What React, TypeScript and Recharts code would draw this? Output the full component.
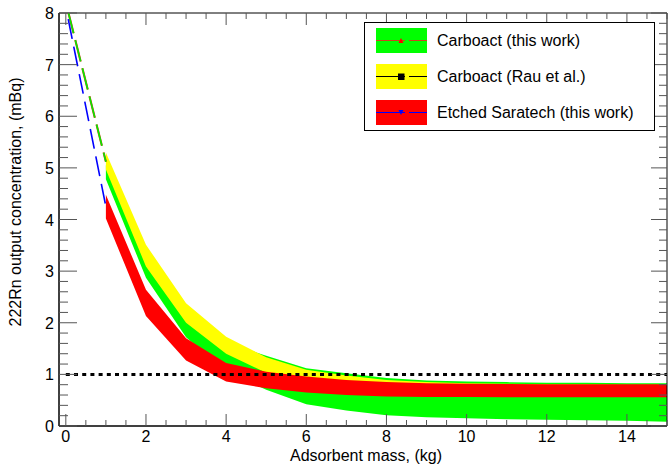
import React from 'react';
import {ComposedChart, Area, Line, XAxis, YAxis, ReferenceArea} from 'recharts';

// band limits per adsorbent mass (kg)
const massKg = [1, 2, 3, 4, 5, 6, 7, 8, 9, 10, 11, 12, 13, 14, 15];
const carboactLow = [4.78, 2.87, 1.72, 1.05, 0.7, 0.42, 0.3, 0.21, 0.17, 0.15, 0.13, 0.12, 0.11, 0.1, 0.08];
const carboactHigh = [5.05, 3.25, 2.2, 1.62, 1.36, 1.12, 1.02, 0.93, 0.88, 0.86, 0.85, 0.84, 0.84, 0.83, 0.83];
const rauLow = [4.97, 3.09, 2.0, 1.4, 1.03, 0.88, 0.8, 0.76, 0.74, 0.72, 0.72, 0.71, 0.71, 0.7, 0.7];
const rauHigh = [5.3, 3.51, 2.38, 1.73, 1.33, 1.09, 0.98, 0.89, 0.85, 0.83, 0.82, 0.81, 0.81, 0.8, 0.8];
const saratechLow = [4.02, 2.13, 1.27, 0.86, 0.73, 0.65, 0.6, 0.57, 0.56, 0.56, 0.555, 0.555, 0.555, 0.555, 0.555];
const saratechHigh = [4.48, 2.64, 1.7, 1.22, 1.05, 0.96, 0.89, 0.85, 0.83, 0.82, 0.815, 0.81, 0.81, 0.81, 0.81];

// dashed extrapolation towards 0 kg
const extrapMass = [0.06, 1];
const carboactExtrap = [8.02, 5.12];
const saratechExtrap = [7.88, 4.25];

// dotted limit line
const limitMass = [0, 15];
const limitLevel = [1, 1];

const xMajorTicks = [0, 2, 4, 6, 8, 10, 12, 14];
const yMajorTicks = [0, 1, 2, 3, 4, 5, 6, 7, 8];
const xTicks = Array.from({length: 31}, (_, i) => i * 0.5);
const yTicks = Array.from({length: 41}, (_, i) => +(i * 0.2).toFixed(1));

const legendLabels = ['Carboact (this work)', 'Carboact (Rau et al.)', 'Etched Saratech (this work)'];
const legendFill = ['#00ff00', '#ffff00', '#ff0000'];
const legendLine = ['#d04020', '#000000', '#0000ff'];

const FONT = '"Liberation Sans", Arial, sans-serif';
const PLOT_TOP = 13;
const PLOT_RIGHT = 667;
const TICK = '#555';

const rows: any[] = [
  {x: limitMass[0], limit: limitLevel[0]},
  {x: extrapMass[0], carboactExtrap: carboactExtrap[0], saratechExtrap: saratechExtrap[0]},
  ...massKg.map((m, i) => ({
    x: m,
    carboact: [carboactLow[i], carboactHigh[i]],
    rau: [rauLow[i], rauHigh[i]],
    saratech: [saratechLow[i], saratechHigh[i]],
    ...(m === extrapMass[1] ? {carboactExtrap: carboactExtrap[1], saratechExtrap: saratechExtrap[1]} : {}),
    ...(m === limitMass[1] ? {limit: limitLevel[1]} : {}),
  })),
];

function XTick(props: any) {
  const {x, y, payload} = props;
  const major = xMajorTicks.includes(payload.value);
  const len = major ? 12 : 6;
  return (
    <g>
      <line x1={x} x2={x} y1={y} y2={y - len} stroke={TICK} />
      <line x1={x} x2={x} y1={PLOT_TOP} y2={PLOT_TOP + len} stroke={TICK} />
      {major && (
        <text x={x} y={y + 16} textAnchor="middle" fontSize={16} fontFamily={FONT} fill="#000">
          {payload.value}
        </text>
      )}
    </g>
  );
}

function YTick(props: any) {
  const {x, y, payload} = props;
  const major = yMajorTicks.includes(payload.value);
  return (
    <g>
      <line x1={x} x2={x + (major ? 18 : 9)} y1={y} y2={y} stroke={TICK} />
      <line x1={PLOT_RIGHT} x2={PLOT_RIGHT - (major ? 16 : 8)} y1={y} y2={y} stroke={TICK} />
      {major && (
        <text x={x - 5} y={y + 6} textAnchor="end" fontSize={16} fontFamily={FONT} fill="#000">
          {payload.value}
        </text>
      )}
    </g>
  );
}

function LegendMarker({i}: {i: number}) {
  const c = legendLine[i];
  if (i === 0) return <polygon points="22.5,15 27.5,15 25,10" fill="#ff0000" />;
  if (i === 1) return <rect x={22} y={9.5} width={6.5} height={6.5} fill={c} />;
  return <polygon points="22.5,10 27.5,10 25,15" fill={c} />;
}

export default function App() {
  return (
    <div style={{position: 'absolute', left: 0, top: 0, width: 668, height: 468, background: '#fff'}}>
      <ComposedChart width={668} height={468} data={rows} margin={{top: 13, right: 1, bottom: 0, left: 0}}>
        <Area dataKey="carboact" type="linear" stroke="none" fill="#00ff00" fillOpacity={1} isAnimationActive={false} />
        <Area dataKey="rau" type="linear" stroke="none" fill="#ffff00" fillOpacity={1} isAnimationActive={false} />
        <Area dataKey="saratech" type="linear" stroke="none" fill="#ff0000" fillOpacity={1} isAnimationActive={false} />
        <Line dataKey="carboactExtrap" type="linear" stroke="#e03010" strokeWidth={2.1} strokeDasharray="22 7" dot={false} activeDot={false} isAnimationActive={false} />
        <Line dataKey="carboactExtrap" type="linear" stroke="#00ee00" strokeWidth={1.6} strokeDasharray="22 7" dot={false} activeDot={false} isAnimationActive={false} />
        <Line dataKey="saratechExtrap" type="linear" stroke="#0000ff" strokeWidth={1.6} strokeDasharray="20 8" dot={false} activeDot={false} isAnimationActive={false} />
        <Line dataKey="limit" type="linear" connectNulls stroke="#000" strokeWidth={3} strokeDasharray="4 4.2" dot={false} activeDot={false} isAnimationActive={false} />
        <ReferenceArea x1={-0.17} x2={15} y1={0} y2={8} fill="none" stroke="#000" strokeWidth={1} />
        <XAxis
          dataKey="x"
          type="number"
          domain={[-0.17, 15]}
          allowDataOverflow
          ticks={xTicks}
          interval={0}
          tickLine={false}
          tickSize={0}
          tickMargin={0}
          tick={XTick}
          axisLine={{stroke: '#000'}}
          height={42}
          label={{
            content: () => (
              <text x={366} y={461} textAnchor="middle" fontSize={16} fontFamily={FONT} fill="#000">
                Adsorbent mass, (kg)
              </text>
            ),
          }}
        />
        <YAxis
          type="number"
          domain={[0, 8]}
          allowDataOverflow
          ticks={yTicks}
          interval={0}
          tickLine={false}
          tickSize={0}
          tickMargin={0}
          tick={YTick}
          axisLine={{stroke: '#000'}}
          width={59}
          label={{
            content: () => (
              <text x={21} y={202} transform="rotate(-90, 21, 202)" textAnchor="middle" fontSize={16} fontFamily={FONT} fill="#000">
                222Rn output concentration, (mBq)
              </text>
            ),
          }}
        />
      </ComposedChart>
      <div
        style={{
          position: 'absolute',
          left: 364,
          top: 22,
          width: 289,
          height: 107,
          border: '1px solid #000',
          background: '#fff',
          fontFamily: FONT,
          fontSize: 16,
          color: '#000',
        }}
      >
        {legendLabels.map((label, i) => (
          <div key={label} style={{position: 'absolute', left: 11, top: 5 + i * 36, height: 25, display: 'flex', alignItems: 'center'}}>
            <svg width={51} height={25} style={{display: 'block'}}>
              <rect x={0} y={0} width={51} height={25} fill={legendFill[i]} />
              <line x1={0} x2={29} y1={12.5} y2={12.5} stroke={legendLine[i]} strokeWidth={1} />
              <line x1={33} x2={51} y1={12.5} y2={12.5} stroke={legendLine[i]} strokeWidth={1} />
              <LegendMarker i={i} />
            </svg>
            <span style={{marginLeft: 10, whiteSpace: 'nowrap'}}>{label}</span>
          </div>
        ))}
      </div>
    </div>
  );
}
